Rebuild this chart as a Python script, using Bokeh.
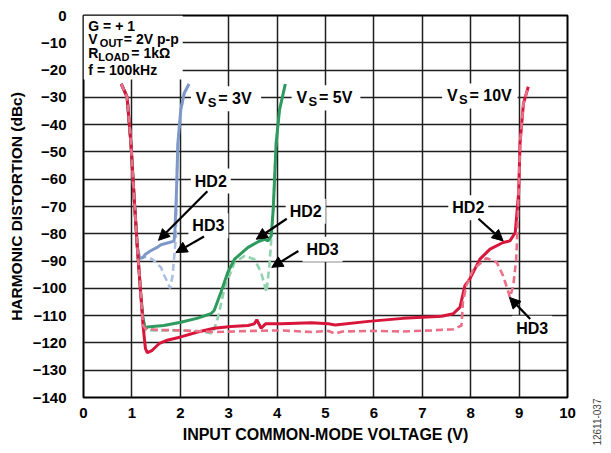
from bokeh.plotting import figure
from bokeh.models import Label, Arrow, NormalHead, BoxAnnotation, FixedTicker, Range1d
from bokeh.embed import file_html
from bokeh.resources import INLINE

# ---------------- data ----------------
x_ticks = [0, 1, 2, 3, 4, 5, 6, 7, 8, 9, 10]
x_tick_labels = ["0", "1", "2", "3", "4", "5", "6", "7", "8", "9", "10"]
y_ticks = [0, -10, -20, -30, -40, -50, -60, -70, -80, -90, -100, -110, -120, -130, -140]
y_tick_labels = ["0", "\u221210", "\u221220", "\u221230", "\u221240", "\u221250", "\u221260",
                 "\u221270", "\u221280", "\u221290", "\u2212100", "\u2212110", "\u2212120",
                 "\u2212130", "\u2212140"]

# Vs = 10V
vs10_hd2_x = [0.78, 0.90, 0.98, 1.04, 1.11, 1.18, 1.23, 1.28, 1.32, 1.42, 1.56, 1.73, 2.01, 2.36,
              2.70, 3.05, 3.40, 3.53, 3.58, 3.67, 3.76, 4.09, 4.71, 5.06, 5.20, 5.89, 6.60, 7.00,
              7.40, 7.64, 7.78, 7.88, 7.98, 8.19, 8.40, 8.67, 8.81, 8.92, 8.99, 9.02, 9.09, 9.19]
vs10_hd2_y = [-25.1, -29.8, -46.8, -65.0, -84.4, -101.4, -113.6, -122.1, -123.6, -122.7, -120.3,
              -119.0, -117.8, -116.0, -114.6, -114.0, -113.6, -113.0, -111.5, -114.6, -113.0,
              -113.0, -112.6, -113.0, -113.4, -112.1, -111.0, -110.6, -110.2, -109.3, -106.9,
              -99.0, -96.6, -89.3, -85.6, -83.2, -82.6, -79.6, -65.0, -46.8, -32.2, -26.1]
vs10_hd3_x = [0.78, 0.90, 0.98, 1.04, 1.11, 1.18, 1.23, 1.28, 1.50, 2.01, 2.70, 3.50, 4.09, 4.71,
              5.06, 5.20, 5.35, 6.00, 6.60, 7.20, 7.64, 7.81, 7.84, 7.91, 8.05, 8.33, 8.54, 8.67,
              8.78, 8.81, 8.88, 8.94, 8.97, 8.99, 9.02, 9.09, 9.19]
vs10_hd3_y = [-25.1, -29.8, -46.8, -65.0, -84.4, -101.4, -113.6, -114.8, -115.2, -115.4, -116.0,
              -115.6, -115.4, -116.0, -115.6, -116.6, -115.8, -115.6, -115.8, -115.4, -115.0,
              -113.6, -105.0, -99.0, -93.0, -88.9, -90.5, -95.4, -101.4, -103.3, -99.0, -89.3,
              -77.0, -65.0, -46.8, -32.2, -26.1]

# Vs = 3V
vs3_hd2_x = [0.78, 0.90, 0.98, 1.04, 1.11, 1.16, 1.22, 1.28, 1.38, 1.52, 1.60, 1.77, 1.87, 1.89,
             1.92, 1.95, 2.01, 2.08, 2.18]
vs3_hd2_y = [-25.1, -29.8, -46.8, -65.0, -84.4, -89.0, -88.8, -87.5, -86.3, -85.0, -84.0, -83.2,
             -82.7, -78.4, -65.0, -46.8, -34.6, -28.5, -25.1]
vs3_hd3_x = [0.78, 0.90, 0.98, 1.04, 1.11, 1.16, 1.22, 1.31, 1.43, 1.52, 1.60, 1.66, 1.74, 1.79,
             1.84, 1.87, 1.91, 1.92, 1.95, 2.01, 2.08, 2.18]
vs3_hd3_y = [-25.1, -29.8, -46.8, -65.0, -84.4, -89.0, -88.8, -88.5, -89.4, -91.0, -92.3, -95.0,
             -97.9, -100.0, -95.5, -89.4, -81.0, -65.0, -46.8, -34.6, -28.5, -25.1]

# Vs = 5V
vs5_hd2_x = [0.78, 0.90, 0.98, 1.04, 1.11, 1.18, 1.23, 1.28, 1.32, 1.66, 2.01, 2.36, 2.63, 2.70,
             2.84, 2.98, 3.12, 3.40, 3.60, 3.74, 3.81, 3.88, 3.92, 3.95, 3.98, 4.05, 4.17]
vs5_hd2_y = [-25.1, -29.8, -46.8, -65.0, -84.4, -101.4, -111.0, -115.0, -114.2, -113.6, -112.4,
             -110.9, -109.3, -108.1, -101.4, -94.2, -89.3, -85.0, -83.0, -82.0, -82.6, -80.8,
             -71.0, -58.9, -46.8, -34.6, -25.1]
vs5_hd3_x = [0.78, 0.90, 0.98, 1.04, 1.11, 1.18, 1.23, 1.28, 2.01, 2.50, 2.67, 2.77, 2.91, 3.12,
             3.33, 3.53, 3.67, 3.78, 3.84, 3.88, 3.92, 3.95, 3.98, 4.05, 4.17]
vs5_hd3_y = [-25.1, -29.8, -46.8, -65.0, -84.4, -101.4, -111.0, -115.4, -115.4, -116.0, -116.6,
             -111.2, -100.2, -90.5, -88.1, -89.3, -94.2, -101.4, -91.7, -82.0, -71.0, -58.9,
             -46.8, -34.6, -25.1]

# annotation texts / anchor points
hd_labels = ["HD2", "HD3", "HD2", "HD3", "HD2", "HD3"]
hd_label_x = [2.63, 2.58, 4.59, 4.94, 7.95, 9.27]
hd_label_y = [-60.7, -77.1, -71.7, -85.7, -70.5, -114.6]
arrow_x0 = [2.56, 2.49, 4.20, 4.44, 8.16, 9.23]
arrow_y0 = [-64.4, -81.0, -74.5, -86.3, -74.5, -111.2]
arrow_x1 = [1.55, 1.91, 3.57, 3.89, 8.67, 8.80]
arrow_y1 = [-82.4, -86.9, -82.0, -92.3, -82.6, -103.3]
vs_values = ["3V", "5V", "10V"]
vs_label_x = [2.32, 4.40, 7.51]
vs_label_y = [-30.5, -30.2, -29.5]
figure_id = "12611-037"

FONT = "Liberation Sans"

RED, RED_L = "#d8163b", "#eb6f86"
BLUE, BLUE_L = "#7d98c9", "#aabfe2"
GREEN, GREEN_L = "#2f9a5d", "#90d3ae"

p = figure(width=603, height=445, x_range=Range1d(0, 10), y_range=Range1d(-140, 0),
           output_backend="svg", toolbar_location=None,
           min_border_left=83, min_border_right=36, min_border_top=15, min_border_bottom=46)
p.background_fill_color = "white"
p.border_fill_color = "white"
p.outline_line_color = "black"
p.outline_line_width = 2

p.xaxis.ticker = FixedTicker(ticks=x_ticks)
p.yaxis.ticker = FixedTicker(ticks=y_ticks)
p.xaxis.major_label_overrides = {t: l for t, l in zip(x_ticks, x_tick_labels)}
p.yaxis.major_label_overrides = {t: l for t, l in zip(y_ticks, y_tick_labels)}
for ax in (p.xaxis, p.yaxis):
    ax.axis_line_color = None
    ax.major_tick_line_color = None
    ax.minor_tick_line_color = None
    ax.major_label_text_font = FONT
    ax.major_label_text_font_style = "bold"
    ax.major_label_text_font_size = "15px"
    ax.major_label_text_color = "black"
    ax.axis_label_text_font = FONT
    ax.axis_label_text_font_style = "bold"
    ax.axis_label_text_color = "black"
p.xaxis.axis_label = "INPUT COMMON-MODE VOLTAGE (V)"
p.yaxis.axis_label = "HARMONIC DISTORTION (dBc)"
p.xaxis.axis_label_text_font_size = "16px"
p.yaxis.axis_label_text_font_size = "15.5px"
p.xaxis.major_label_standoff = 4
p.xaxis.axis_label_standoff = 5
p.yaxis.major_label_standoff = 11
p.yaxis.axis_label_standoff = 5

p.xgrid.ticker = FixedTicker(ticks=x_ticks)
p.ygrid.ticker = FixedTicker(ticks=y_ticks)
for g in (p.xgrid, p.ygrid):
    g.grid_line_color = "#1f1f1f"
    g.grid_line_width = 1.5

LW, DW, DASH = 3, 2.6, "7 4"
p.line(vs3_hd3_x, vs3_hd3_y, line_color=BLUE_L, line_width=DW, line_dash=DASH)
p.line(vs3_hd2_x, vs3_hd2_y, line_color=BLUE, line_width=LW)
p.line(vs5_hd3_x, vs5_hd3_y, line_color=GREEN_L, line_width=DW, line_dash=DASH)
p.line(vs5_hd2_x, vs5_hd2_y, line_color=GREEN, line_width=LW)
p.line(vs10_hd2_x, vs10_hd2_y, line_color=RED, line_width=LW)
p.line(vs10_hd3_x, vs10_hd3_y, line_color=RED_L, line_width=DW, line_dash=DASH)


def txt(x, y, text, size, dx=0, dy=0, align="left", bold=True, bg=False, angle=0.0,
        place=None, color="black"):
    lab = Label(x=x, y=y, text=text, x_offset=dx, y_offset=dy, text_font=FONT,
                text_font_style="bold" if bold else "normal", text_font_size=size,
                text_align=align, text_baseline="middle", text_color=color, angle=angle)
    if bg:
        lab.background_fill_color = "white"
        lab.padding = 4
    if place:
        p.add_layout(lab, place)
    else:
        p.add_layout(lab)
    return lab


# white box of conditions block (top-left)
p.add_layout(BoxAnnotation(left=0, right=2.05, top=0, bottom=-23.5, fill_color="white",
                           fill_alpha=1, line_color=None))
cx = 0.1
txt(cx, -3.7, "G = + 1", "14px")
txt(cx, -8.6, "V", "14px")
txt(cx, -8.6, "OUT", "11px", dx=11.5, dy=-4)
txt(cx, -8.6, " = 2V p-p", "14px", dx=35.5)
txt(cx, -13.9, "R", "14px")
txt(cx, -13.9, "LOAD", "11px", dx=10, dy=-4)
txt(cx, -13.9, " = 1k\u03a9", "14px", dx=43)
txt(cx, -20.1, "f = 100kHz", "14px")

# Vs labels with white backgrounds
box_w = [1.45, 1.42, 1.56]
for vx, vy, val, bw in zip(vs_label_x, vs_label_y, vs_values, box_w):
    p.add_layout(BoxAnnotation(left=vx - 0.1, right=vx - 0.1 + bw, top=vy + 4.6, bottom=vy - 4.6,
                               fill_color="white", fill_alpha=1, line_color=None))
    txt(vx, vy, "V", "16px")
    txt(vx, vy, "S", "13px", dx=12, dy=-4)
    txt(vx, vy, " = " + val, "16px", dx=22.5)

# HD labels + arrows
for lx, ly, t in zip(hd_label_x, hd_label_y, hd_labels):
    txt(lx, ly, t, "16px", align="center", bg=True)
for x0, y0, x1, y1 in zip(arrow_x0, arrow_y0, arrow_x1, arrow_y1):
    p.add_layout(Arrow(end=NormalHead(size=11, fill_color="black", line_color="black", line_width=1),
                       x_start=x0, y_start=y0, x_end=x1, y_end=y1,
                       line_color="black", line_width=2.2))

# figure id text at right edge (side panel so it is not clipped by the frame)
txt(10.6, -149, figure_id, "10px", align="center", bold=False, angle=1.5708,
    place="right", color="#444444")

open("out.html", "w").write(file_html(p, INLINE))
